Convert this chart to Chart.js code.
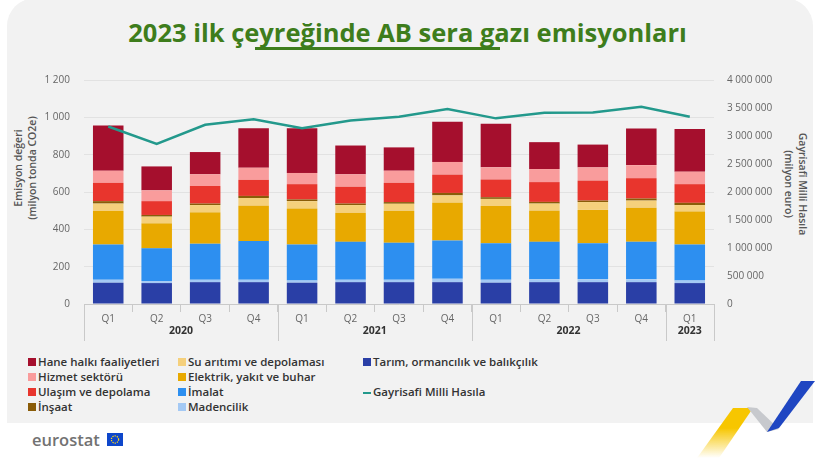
<!DOCTYPE html>
<html lang="tr">
<head>
<meta charset="utf-8">
<script src="https://cdn.jsdelivr.net/npm/chart.js@4.4.1/dist/chart.umd.min.js"></script>
<style>
  body { margin: 0; width: 815px; height: 460px; background: #fff; position: relative; overflow: hidden; font-family: 'Open Sans', sans-serif; }
  #card { position: absolute; left: 7px; top: -2px; width: 806px; height: 425px; background: #f2f2f2; border-radius: 28px 28px 0 0; }
  #title { position: absolute; left: 0; width: 815px; top: 17px; text-align: center; color: #3e7d1c; font-weight: 700; font-size: 25.5px; line-height: 30px; }
  #underline { position: absolute; left: 255px; top: 47px; width: 245px; height: 3px; background: #3e7d1c; }
  #chartBox { position: absolute; left: 0; top: 60px; width: 815px; height: 290px; }
  .axis-title { position: absolute; width: 200px; text-align: center; font-size: 10.5px; font-weight: 600; color: #555; line-height: 14px; }
  .leg { position: absolute; font-size: 11.5px; font-weight: 600; color: #333; white-space: nowrap; line-height: 14px; }
  .leg i { position: absolute; left: -10px; top: 3px; width: 8px; height: 8px; }
  .leg i.line { height: 2px; top: 7px; }
  #logo { position: absolute; left: 32px; top: 428px; font-size: 16.5px; font-weight: 600; color: #727272; }
</style>
</head>
<body>
<div id="card"></div>
<div id="title">2023 ilk çeyreğinde AB sera gazı emisyonları</div>
<div id="underline"></div>
<div class="axis-title" style="left:-75px; top:154px; transform: rotate(-90deg);">Emisyon değeri<br>(milyon tonda CO2e)</div>
<div class="axis-title" style="left:696px; top:170px; transform: rotate(90deg);">Gayrisafi Milli Hasıla<br>(milyon euro)</div>
<div id="chartBox"><canvas id="chart"></canvas></div>
<div id="legend"></div>
<div id="logo">eurostat</div>
<svg style="position:absolute; left:0; top:0;" width="815" height="460">
  <g transform="translate(107,433)">
    <rect width="16" height="13" fill="#0e47cb"/>
    <circle cx="8" cy="6.5" r="3.6" fill="none" stroke="#ffd617" stroke-width="1.2" stroke-dasharray="1.3 1"/>
  </g>
  <defs>
    <linearGradient id="fade" x1="0" y1="1" x2="0" y2="0">
      <stop offset="0" stop-color="#f7c600" stop-opacity="0"/>
      <stop offset="0.6" stop-color="#f7c600" stop-opacity="1"/>
    </linearGradient>
  </defs>
  <polygon points="733,408 753,408 719,458 697,458" fill="url(#fade)"/>
  <polygon points="747,407 757,408 779,429 767,432" fill="#c7c9cd"/>
  <polygon points="767,432 779,428 815,381 801,381" fill="#1f46c2"/>
</svg>

<script>
const labels = ['Q1', 'Q2', 'Q3', 'Q4', 'Q1', 'Q2', 'Q3', 'Q4', 'Q1', 'Q2', 'Q3', 'Q4', 'Q1'];
const years = ['2020', '2021', '2022', '2023'];
const yearStart = [0, 4, 8, 12];

// million tonnes CO2e, bottom of the stack first
const tarim = [114, 112, 117, 117, 114, 117, 117, 117, 114, 117, 117, 117, 112];
const madencilik = [16, 11, 13, 13, 12, 13, 13, 18, 16, 15, 15, 15, 14];
const imalat = [189, 175, 193, 207, 193, 203, 198, 205, 195, 201, 193, 201, 193];
const elektrik = [179, 134, 168, 189, 193, 155, 172, 202, 200, 167, 179, 183, 176];
const suArtimi = [40, 36, 39, 42, 39, 42, 37, 40, 38, 38, 42, 38, 35];
const insaat = [13, 9, 8, 11, 9, 8, 9, 13, 9, 9, 8, 11, 12];
const ulasim = [98, 74, 94, 86, 82, 90, 103, 98, 95, 106, 107, 109, 100];
const hizmet = [65, 58, 63, 65, 60, 67, 65, 68, 65, 70, 71, 70, 67];
const haneHalki = [242, 128, 119, 212, 240, 154, 125, 216, 233, 144, 122, 196, 228];

// million euro
const gsmh = [3170000, 2860000, 3200000, 3300000, 3140000, 3275000, 3345000, 3480000, 3315000, 3415000, 3420000, 3520000, 3345000];

const leftTicks = { min: 0, max: 1200, step: 200 };
const rightTicks = { min: 0, max: 4000000, step: 500000 };

function spaced(n) {
    return String(n).replace(/\B(?=(\d{3})+(?!\d))/g, ' ');
}

let bars = [
    { label: 'Tarım, ormancılık ve balıkçılık', data: tarim, color: '#2a3fa6', col: 2, row: 0 },
    { label: 'Madencilik', data: madencilik, color: '#a4c9f4', col: 1, row: 3 },
    { label: 'İmalat', data: imalat, color: '#2d8ff0', col: 1, row: 2 },
    { label: 'Elektrik, yakıt ve buhar', data: elektrik, color: '#e8a900', col: 1, row: 1 },
    { label: 'Su arıtımı ve depolaması', data: suArtimi, color: '#f5d07c', col: 1, row: 0 },
    { label: 'İnşaat', data: insaat, color: '#8a5c08', col: 0, row: 3 },
    { label: 'Ulaşım ve depolama', data: ulasim, color: '#e8352d', col: 0, row: 2 },
    { label: 'Hizmet sektörü', data: hizmet, color: '#f99c9c', col: 0, row: 1 },
    { label: 'Hane halkı faaliyetleri', data: haneHalki, color: '#a50f2d', col: 0, row: 0 }
];
let gdpLine = { label: 'Gayrisafi Milli Hasıla', data: gsmh, color: '#23998c', col: 2, row: 2 };

// legend, three columns like the original
let legendX = [38, 188, 373];
let legendY = [355, 370, 385, 400];
let legend = document.getElementById('legend');
bars.concat([gdpLine]).forEach(item => {
    let el = document.createElement('div');
    el.className = 'leg';
    el.style.left = legendX[item.col] + 'px';
    el.style.top = legendY[item.row] + 'px';
    let mark = item === gdpLine ? '<i class="line"></i>' : '<i></i>';
    el.innerHTML = mark + item.label;
    el.querySelector('i').style.background = item.color;
    legend.appendChild(el);
});

const yearAxis = {
    id: 'yearAxis',
    afterDraw(chart) {
        let { ctx, scales: { x }, chartArea } = chart;
        let half = (x.getPixelForValue(1) - x.getPixelForValue(0)) / 2;
        ctx.save();
        ctx.strokeStyle = '#c9c9c9';
        ctx.lineWidth = 1;
        let edges = yearStart.concat([labels.length]);
        edges.forEach(i => {
            let px = Math.round(x.getPixelForValue(i) - half) + 0.5;
            ctx.beginPath();
            ctx.moveTo(px, chartArea.bottom);
            ctx.lineTo(px, chartArea.bottom + 37);
            ctx.stroke();
        });
        ctx.fillStyle = '#333';
        ctx.font = '700 10.5px "Open Sans"';
        ctx.textAlign = 'center';
        ctx.textBaseline = 'middle';
        years.forEach((year, k) => {
            let from = edges[k], to = edges[k + 1] - 1;
            let cx = (x.getPixelForValue(from) + x.getPixelForValue(to)) / 2;
            ctx.fillText(year, cx, chartArea.bottom + 27);
        });
        ctx.restore();
    }
};

let tickFont = { family: 'Open Sans', size: 10 };

new Chart(document.getElementById('chart'), {
    type: 'bar',
    data: {
        labels,
        datasets: [
            {
                type: 'line',
                label: gdpLine.label,
                data: gdpLine.data,
                yAxisID: 'y1',
                borderColor: gdpLine.color,
                borderWidth: 2.5,
                pointRadius: 0,
                tension: 0,
                order: 0
            }
        ].concat(bars.map(b => ({
            label: b.label,
            data: b.data,
            backgroundColor: b.color,
            borderWidth: 0,
            yAxisID: 'y',
            categoryPercentage: 1,
            barPercentage: 0.63,
            order: 1
        })))
    },
    options: {
        responsive: true,
        maintainAspectRatio: false,
        animation: false,
        layout: { padding: { top: 16, left: 0, right: 0, bottom: 0 } },
        plugins: { legend: { display: false }, tooltip: { enabled: false } },
        scales: {
            x: {
                stacked: true,
                afterFit: scale => { scale.height = 46; },
                grid: { offset: true, drawOnChartArea: false, color: '#c9c9c9', tickLength: 8 },
                border: { color: '#c9c9c9' },
                ticks: { font: tickFont, color: '#666', padding: 1, maxRotation: 0, autoSkip: false }
            },
            y: {
                stacked: true,
                position: 'left',
                min: leftTicks.min,
                max: leftTicks.max,
                afterFit: scale => { scale.width = 84; },
                grid: { color: '#e2e2e2', drawTicks: false },
                border: { display: false },
                ticks: { stepSize: leftTicks.step, font: tickFont, color: '#666', padding: 14, callback: v => spaced(v) }
            },
            y1: {
                position: 'right',
                min: rightTicks.min,
                max: rightTicks.max,
                afterFit: scale => { scale.width = 101; },
                grid: { drawOnChartArea: false, drawTicks: false },
                border: { display: false },
                ticks: { stepSize: rightTicks.step, font: tickFont, color: '#666', padding: 13, callback: v => spaced(v) }
            }
        }
    },
    plugins: [yearAxis]
});
</script>
</body>
</html>
